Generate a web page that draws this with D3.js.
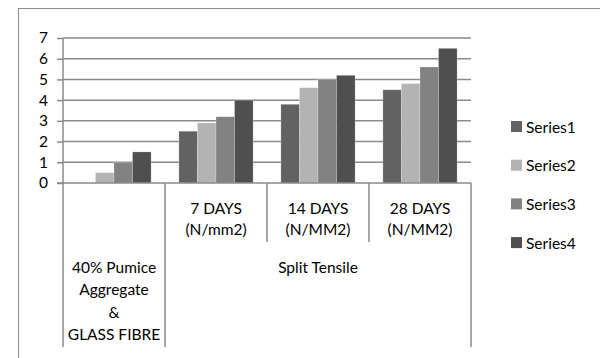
<!DOCTYPE html>
<html>
<head>
<meta charset="utf-8">
<script src="https://cdn.jsdelivr.net/npm/d3@7/dist/d3.min.js"></script>
<style>
  html, body { margin: 0; padding: 0; background: #fff; }
  svg { display: block; }
  text { font-family: Lato, "Open Sans", sans-serif; fill: #000; }
</style>
</head>
<body>
<svg id="chart" width="600" height="358"></svg>
<script>
// Category labels (inner level) and group labels (outer level)
const categories = ["c0", "c1", "c2", "c3"];
const categoryLabels = [[], ["7 DAYS", "(N/mm2)"], ["14 DAYS", "(N/MM2)"], ["28 DAYS", "(N/MM2)"]];
const groups = [
  { label: ["40% Pumice", "Aggregate", "&", "GLASS FIBRE"], from: 0, to: 0 },
  { label: ["Split Tensile"], from: 1, to: 3 }
];
const seriesNames = ["Series1", "Series2", "Series3", "Series4"];
const seriesColors = ["#626262", "#b3b3b3", "#828282", "#4f4f4f"];

// Values per series, one entry per category
const series1 = [0, 2.5, 3.8, 4.5];
const series2 = [0.5, 2.9, 4.6, 4.8];
const series3 = [1, 3.2, 5.0, 5.6];
const series4 = [1.5, 4.0, 5.2, 6.5];
const seriesValues = [series1, series2, series3, series4];

const yTicks = [0, 1, 2, 3, 4, 5, 6, 7];

const FS = 15.5;
const svg = d3.select("#chart");

// Outer chart border
svg.append("rect")
  .attr("x", 18.5).attr("y", 8.5)
  .attr("width", 700).attr("height", 400)
  .attr("fill", "none").attr("stroke", "#8c8c8c").attr("stroke-width", 1);

const plot = { left: 63, right: 471, top: 38, bottom: 183 };

const y = d3.scaleLinear().domain([0, 7]).range([plot.bottom, plot.top]);
const x = d3.scaleBand().domain(categories).range([plot.left, plot.right]).padding(0);
const bw = x.bandwidth();
// Gap width of 150%: four bars plus 1.5 bar widths of gap per category
const barW = bw / 5.5;
const inner = d3.scaleBand().domain(seriesNames)
  .range([bw * 0.75 / 5.5, bw * 0.75 / 5.5 + barW * 4]).padding(0);

// Horizontal gridlines
svg.append("g").selectAll("line").data(yTicks.filter(t => t > 0)).join("line")
  .attr("x1", plot.left).attr("x2", plot.right)
  .attr("y1", d => y(d)).attr("y2", d => y(d))
  .attr("stroke", "#8a8a8a").attr("stroke-width", 1.5);

// Bars
const bars = svg.append("g");
seriesNames.forEach((name, si) => {
  bars.selectAll(null).data(categories.map((c, ci) => ({ c, v: seriesValues[si][ci] })))
    .join("rect")
    .attr("x", d => x(d.c) + inner(name))
    .attr("y", d => y(d.v))
    .attr("width", inner.bandwidth())
    .attr("height", d => y(0) - y(d.v))
    .attr("fill", seriesColors[si])
    .attr("stroke", "#ffffff").attr("stroke-opacity", 0.35).attr("stroke-width", 0.6);
});

// Y axis
const yAxis = d3.axisLeft(y).tickValues(yTicks).tickFormat(d3.format("d")).tickSize(6).tickPadding(9);
const ya = svg.append("g").attr("transform", `translate(${plot.left},0)`).call(yAxis);
ya.select(".domain").remove();
ya.selectAll(".tick line").attr("stroke", "#8a8a8a").attr("stroke-width", 1.5);
ya.selectAll(".tick text").attr("font-size", FS).attr("font-family", "Lato, sans-serif").attr("fill", "#000");

const axisColor = "#8a8a8a";
const lowerBottom = 347, innerBottom = 242;

// Vertical axis line running through the category rows
svg.append("line").attr("x1", plot.left).attr("x2", plot.left)
  .attr("y1", plot.top).attr("y2", lowerBottom)
  .attr("stroke", axisColor).attr("stroke-width", 1.5);
// Baseline
svg.append("line").attr("x1", plot.left - 6).attr("x2", plot.right)
  .attr("y1", y(0)).attr("y2", y(0))
  .attr("stroke", axisColor).attr("stroke-width", 1.5);

// Category dividers: group boundaries run through both rows, the rest only the inner row
const groupEdges = new Set(groups.map(g => g.to + 1));
categories.forEach((c, i) => {
  const edge = i + 1;
  const xe = x(c) + bw;
  svg.append("line").attr("x1", xe).attr("x2", xe)
    .attr("y1", y(0)).attr("y2", groupEdges.has(edge) ? lowerBottom : innerBottom)
    .attr("stroke", axisColor).attr("stroke-width", 1.5);
});

// Inner category labels
categories.forEach((c, i) => {
  const t = svg.append("text").attr("text-anchor", "middle").attr("font-size", FS)
    .attr("x", x(c) + bw / 2).attr("y", 214);
  categoryLabels[i].forEach((line, li) => {
    t.append("tspan").attr("x", x(c) + bw / 2).attr("dy", li === 0 ? 0 : 21).text(line);
  });
});

// Outer group labels
groups.forEach(g => {
  const x0 = x(categories[g.from]), x1 = x(categories[g.to]) + bw;
  const t = svg.append("text").attr("text-anchor", "middle").attr("font-size", FS)
    .attr("x", (x0 + x1) / 2).attr("y", 273);
  g.label.forEach((line, li) => {
    t.append("tspan").attr("x", (x0 + x1) / 2).attr("dy", li === 0 ? 0 : 22.3).text(line);
  });
});

// Legend
const legend = svg.append("g").attr("transform", "translate(511,121)");
seriesNames.forEach((name, i) => {
  const g = legend.append("g").attr("transform", `translate(0,${i * 38.7})`);
  g.append("rect").attr("width", 11).attr("height", 11).attr("fill", seriesColors[i]);
  g.append("text").attr("x", 15).attr("y", 11.5).attr("font-size", FS).text(name);
});
</script>
</body>
</html>
